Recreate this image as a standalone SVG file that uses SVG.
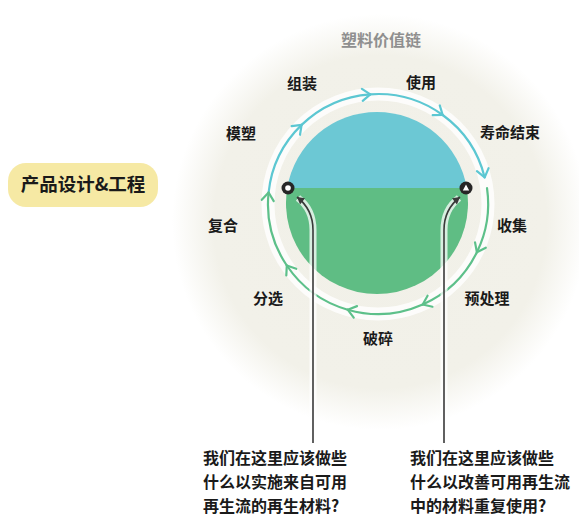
<svg xmlns="http://www.w3.org/2000/svg" width="579" height="516" viewBox="0 0 579 516">
<style>
text{font-family:"Noto Sans CJK SC","Noto Sans",sans-serif;font-weight:bold;fill:#1a1a1a}
.lbl{font-size:15px;text-anchor:middle}
.q{font-size:16px}
.ring{fill:none;stroke-width:2.2;stroke-linecap:round}
.blue{stroke:#5cc7d2}
.green{stroke:#5dc08a}
.ptr{fill:none;stroke:#3a3a3a;stroke-width:1.6}
.halo{fill:none;stroke:#ffffff;stroke-opacity:0.75;stroke-width:7}
</style>
<defs>
<radialGradient id="bg" cx="380" cy="222" r="208" gradientUnits="userSpaceOnUse">
<stop offset="0" stop-color="#f1f0e8"/>
<stop offset="0.8" stop-color="#f2f1e9"/>
<stop offset="1" stop-color="#f2f1e9" stop-opacity="0"/>
</radialGradient>
<marker id="chevB" viewBox="-10 -8 12 16" markerWidth="12" markerHeight="16" refX="0" refY="0" orient="auto" markerUnits="userSpaceOnUse">
<path d="M-8,-6 L0,0 L-8,6" fill="none" stroke="#5cc7d2" stroke-width="2.2" stroke-linecap="round" stroke-linejoin="round"/>
</marker>
<marker id="chevG" viewBox="-10 -8 12 16" markerWidth="12" markerHeight="16" refX="0" refY="0" orient="auto" markerUnits="userSpaceOnUse">
<path d="M-8,-6 L0,0 L-8,6" fill="none" stroke="#5dc08a" stroke-width="2.2" stroke-linecap="round" stroke-linejoin="round"/>
</marker>
<marker id="tip" viewBox="-8 -5 10 10" markerWidth="10" markerHeight="10" refX="0" refY="0" orient="auto" markerUnits="userSpaceOnUse">
<path d="M-7,-4 L0,0 L-7,4 Z" fill="#3a3a3a"/>
</marker>
</defs>
<rect width="579" height="516" fill="#ffffff"/>
<circle cx="380" cy="222" r="208" fill="url(#bg)"/>
<text x="381" y="46" font-size="16" text-anchor="middle" style="fill:#8f8f8f;font-weight:bold">塑料价值链</text>

<g id="cycle-core">
<path d="M287.25,188 A91,91 0 0 1 466.75,188 Z" fill="#6cc8d4"/>
<path d="M466.75,188 A91,91 0 1 1 287.25,188 Z" fill="#5fbd84"/>
</g>

<g id="connectors">
<circle cx="378" cy="204" r="110" fill="none" stroke="#ffffff" stroke-opacity="0.8" stroke-width="13"/>
<path class="ring blue" d="M268.6,192.5 A110,110 0 0 1 301.6,124.9" marker-end="url(#chevB)"/>
<path class="ring blue" d="M301.6,124.9 A110,110 0 0 1 370.3,94.3" marker-end="url(#chevB)"/>
<path class="ring blue" d="M370.3,94.3 A110,110 0 0 1 442.7,115.0" marker-end="url(#chevB)"/>
<path class="ring blue" d="M442.7,115.0 A110,110 0 0 1 484.7,177.4" marker-end="url(#chevB)"/>
<path class="ring green" d="M487.0,188.0 A110,110 0 0 1 476.9,252.2" marker-end="url(#chevG)"/>
<path class="ring green" d="M476.9,252.2 A110,110 0 0 1 422.7,304.5" marker-end="url(#chevG)"/>
<path class="ring green" d="M422.7,304.5 A110,110 0 0 1 347.7,309.7" marker-end="url(#chevG)"/>
<path class="ring green" d="M347.7,309.7 A110,110 0 0 1 286.8,265.5" marker-end="url(#chevG)"/>
<path class="ring green" d="M286.8,265.5 A110,110 0 0 1 268.6,192.5" marker-end="url(#chevG)"/>

<path class="halo" d="M313,443 L313,230 C313,214 306,204 298,198"/>
<path class="halo" d="M444,443 L444,230 C444,214 451,204 459,198"/>
<path class="ptr" d="M313,443 L313,230 C313,214 306,204 297,197" marker-end="url(#tip)"/>
<path class="ptr" d="M444,443 L444,230 C444,214 451,204 460,197" marker-end="url(#tip)"/>
</g>

<g id="marker-left">
<circle cx="288" cy="188" r="6.5" fill="#262626"/>
<circle cx="288" cy="188" r="2.8" fill="#ffffff"/>
</g>
<g id="marker-right">
<circle cx="466" cy="188" r="6.5" fill="#262626"/>
<path d="M466,184.5 L469.2,190.5 L462.8,190.5 Z" fill="#ffffff"/>
</g>

<g id="stage-assembly"><text class="lbl" x="302" y="88.5">组装</text></g>
<g id="stage-use"><text class="lbl" x="421" y="87.5">使用</text></g>
<g id="stage-molding"><text class="lbl" x="241" y="138.5">模塑</text></g>
<g id="stage-eol"><text class="lbl" x="510" y="137.5">寿命结束</text></g>
<g id="stage-compound"><text class="lbl" x="223" y="230.5">复合</text></g>
<g id="stage-collect"><text class="lbl" x="512" y="230.5">收集</text></g>
<g id="stage-sort"><text class="lbl" x="268" y="303.5">分选</text></g>
<g id="stage-pretreat"><text class="lbl" x="487" y="303.5">预处理</text></g>
<g id="stage-shred"><text class="lbl" x="378" y="343.5">破碎</text></g>

<g id="design-box">
<rect x="8" y="163" width="150" height="44" rx="18" fill="#f6e9a4"/>
<text x="83" y="191" font-size="18.5" text-anchor="middle">产品设计&amp;工程</text>
</g>

<g id="question-left">
<text class="q" x="203" y="464">我们在这里应该做些</text>
<text class="q" x="203" y="488">什么以实施来自可用</text>
<text class="q" x="203" y="512">再生流的再生材料?</text>
</g>
<g id="question-right">
<text class="q" x="410" y="464">我们在这里应该做些</text>
<text class="q" x="410" y="488">什么以改善可用再生流</text>
<text class="q" x="410" y="512">中的材料重复使用?</text>
</g>
</svg>
